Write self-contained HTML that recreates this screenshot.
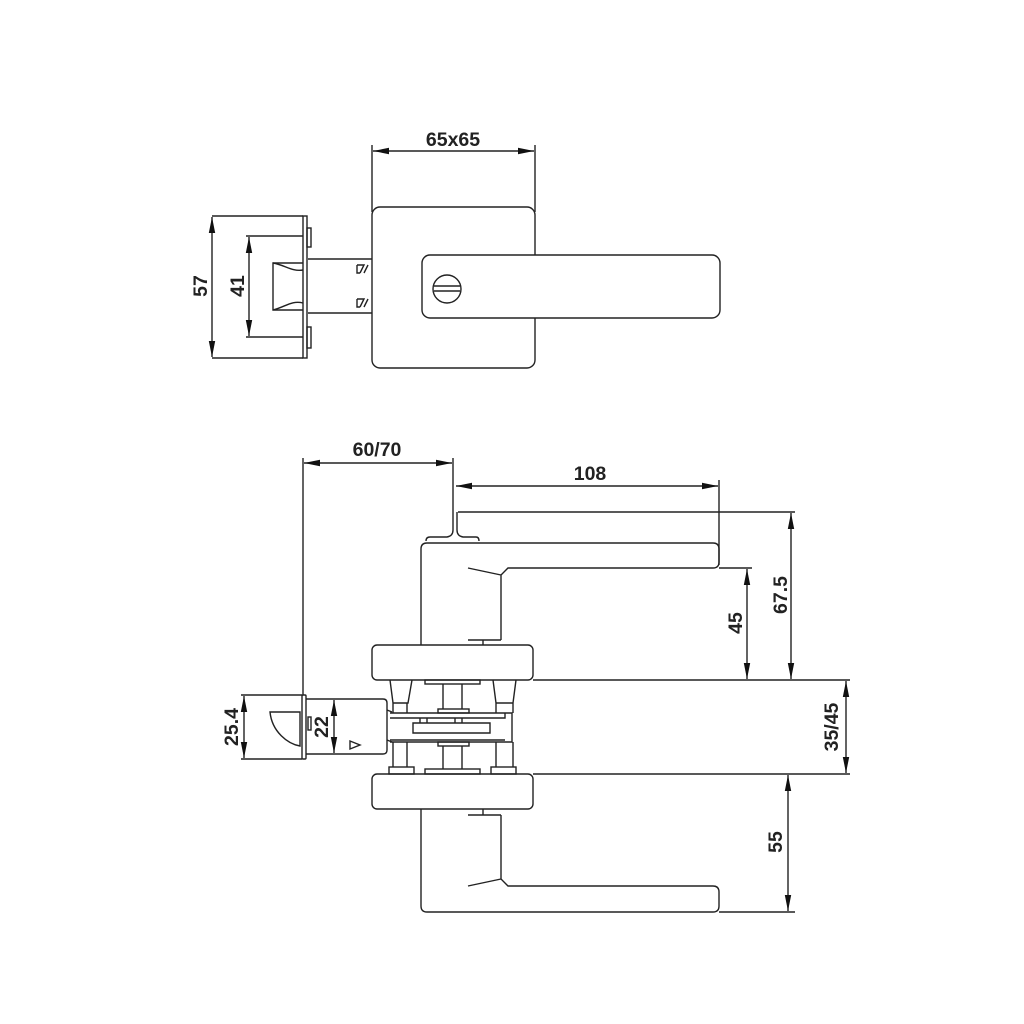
<!DOCTYPE html>
<html><head><meta charset="utf-8"><style>
html,body{margin:0;padding:0;background:#fff;}
svg{display:block}
text{font-family:"Liberation Sans",sans-serif;font-weight:bold;font-size:19.5px;fill:#222}
</style></head><body>
<svg width="1024" height="1024" viewBox="0 0 1024 1024" xmlns="http://www.w3.org/2000/svg">
<defs>
<marker id="a" viewBox="0 0 16 8" refX="16" refY="4" markerWidth="16" markerHeight="8" markerUnits="userSpaceOnUse" orient="auto-start-reverse"><path d="M0,0.8 L16,4 L0,7.2 z" fill="#111"/></marker>
</defs>
<g fill="none" stroke="#222" stroke-width="1.4">
<!-- TOP VIEW -->
<line x1="372" y1="145" x2="372" y2="212"/>
<line x1="535" y1="145" x2="535" y2="212"/>
<line x1="373" y1="151" x2="534" y2="151" marker-start="url(#a)" marker-end="url(#a)"/>
<rect x="372" y="207" width="163" height="161" rx="8"/>
<rect x="422" y="255" width="298" height="63" rx="8" fill="#fff"/>
<circle cx="447" cy="289" r="14"/>
<line x1="434" y1="286" x2="460" y2="286"/>
<line x1="434" y1="291" x2="460" y2="291"/>
<!-- spindle -->
<line x1="308" y1="259" x2="372" y2="259"/>
<line x1="308" y1="313" x2="372" y2="313"/>
<path d="M357,265 h7 l-4,8 M357,265 v8 h3 M368,265 l-4,8"/>
<path d="M357,299 h7 l-4,8 M357,299 v8 h3 M368,299 l-4,8"/>
<!-- latch -->
<rect x="303" y="216" width="4" height="142"/>
<rect x="307" y="228" width="4" height="19"/>
<rect x="307" y="327" width="4" height="21"/>
<path d="M303,263 H273 V310 H303"/>
<path d="M273,263 C285,265 292,272 303,270 M273,310 C285,307 292,300 303,303"/>
<line x1="212" y1="216" x2="303" y2="216"/>
<line x1="212" y1="358" x2="303" y2="358"/>
<line x1="212" y1="217" x2="212" y2="357" marker-start="url(#a)" marker-end="url(#a)"/>
<line x1="246" y1="236" x2="303" y2="236"/>
<line x1="246" y1="337" x2="303" y2="337"/>
<line x1="249" y1="237" x2="249" y2="336" marker-start="url(#a)" marker-end="url(#a)"/>

<!-- BOTTOM VIEW dims -->
<line x1="303" y1="458" x2="303" y2="695"/>
<line x1="453" y1="458" x2="453" y2="512"/>
<line x1="304" y1="463" x2="452" y2="463" marker-start="url(#a)" marker-end="url(#a)"/>
<line x1="719" y1="480" x2="719" y2="565"/>
<line x1="456" y1="486" x2="718" y2="486" marker-start="url(#a)" marker-end="url(#a)"/>
<line x1="458" y1="512" x2="795" y2="512"/>
<line x1="719" y1="568" x2="752" y2="568"/>
<line x1="533" y1="680" x2="850" y2="680"/>
<line x1="533" y1="774" x2="850" y2="774"/>
<line x1="719" y1="912" x2="795" y2="912"/>
<line x1="747" y1="569" x2="747" y2="679" marker-start="url(#a)" marker-end="url(#a)"/>
<line x1="791" y1="513" x2="791" y2="679" marker-start="url(#a)" marker-end="url(#a)"/>
<line x1="846" y1="681" x2="846" y2="773" marker-start="url(#a)" marker-end="url(#a)"/>
<line x1="788" y1="775" x2="788" y2="911" marker-start="url(#a)" marker-end="url(#a)"/>

<!-- upper lever -->
<path d="M453,512 V530 Q453,536 447,537 H430 Q426,537 426,541 M457,512 V530 Q457,536 463,537 H476 Q479,537 479,541"/>
<path d="M421,645 V549 Q421,543 427,543 H713 Q719,543 719,549 V562 Q719,568 713,568 H508 L501,575 V640 M501,575 L468,568"/>
<line x1="468" y1="640" x2="501" y2="640"/><line x1="483" y1="640" x2="483" y2="645"/>
<rect x="372" y="645" width="161" height="35" rx="5"/>
<rect x="372" y="774" width="161" height="35" rx="5"/>
<!-- lower lever -->
<path d="M421,809 V906 Q421,912 427,912 H713 Q719,912 719,906 V892 Q719,886 713,886 H508 L501,879 V815 M501,879 L468,886"/>
<line x1="468" y1="815" x2="501" y2="815"/><line x1="483" y1="809" x2="483" y2="815"/>

<!-- mechanism -->
<path d="M390,680 L393,703 H408 L412,680 M393,703 V713 M407,703 V713"/>
<path d="M493,680 L496,703 H513 L516,680 M496,703 V713 M513,703 V713"/>
<rect x="425" y="680" width="55" height="4"/>
<path d="M443,684 V709 M462,684 V709"/>
<rect x="438" y="709" width="31" height="4"/>
<path d="M390,713 H505 V718 H390 M505,713 H512 V742 H390 M390,740 H505"/>
<path d="M413,723 H490 V733 H413 z M420,723 V718 M427,723 V718 M455,723 V718 M462,723 V718"/>
<rect x="438" y="742" width="31" height="4"/>
<path d="M443,746 V769 M462,746 V769"/>
<path d="M393,742 V767 M407,742 V767 M496,742 V767 M513,742 V767"/>
<rect x="389" y="767" width="25" height="7"/>
<rect x="491" y="767" width="25" height="7"/>
<rect x="425" y="769" width="55" height="5"/>

<!-- latch bottom -->
<rect x="302" y="695" width="4" height="64" rx="1"/>
<path d="M306,699 H383 Q387,699 387,703 V750 Q387,754 383,754 H306"/>
<path d="M387,710 L392,712 M387,740 L392,742"/>
<rect x="308" y="717" width="3" height="13"/>
<path d="M270,712 H300 V746 C288,744 272,732 270,712 z"/>
<path d="M350,741 L360,745 L350,749 z"/>
<line x1="241" y1="695" x2="302" y2="695"/>
<line x1="241" y1="759" x2="302" y2="759"/>
<line x1="244" y1="696" x2="244" y2="758" marker-start="url(#a)" marker-end="url(#a)"/>
<line x1="334" y1="700" x2="334" y2="753" marker-start="url(#a)" marker-end="url(#a)"/>
</g>

<text x="453" y="146" text-anchor="middle">65x65</text>
<text transform="translate(207,286) rotate(-90)" text-anchor="middle">57</text>
<text transform="translate(244,286) rotate(-90)" text-anchor="middle">41</text>
<text x="377" y="456" text-anchor="middle">60/70</text>
<text x="590" y="480" text-anchor="middle">108</text>
<text transform="translate(742,623) rotate(-90)" text-anchor="middle">45</text>
<text transform="translate(787,595) rotate(-90)" text-anchor="middle">67.5</text>
<text transform="translate(838,727) rotate(-90)" text-anchor="middle">35/45</text>
<text transform="translate(782,842) rotate(-90)" text-anchor="middle">55</text>
<text transform="translate(238,727) rotate(-90)" text-anchor="middle">25.4</text>
<text transform="translate(328,727) rotate(-90)" text-anchor="middle">22</text>
</svg>
</body></html>
